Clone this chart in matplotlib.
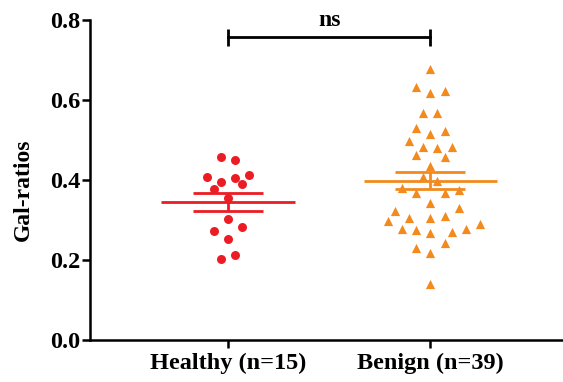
import numpy as np
import matplotlib
matplotlib.use('Agg')
from matplotlib import pyplot as plt

plt.rcParams['font.family'] = ['Liberation Serif', 'DejaVu Serif']
plt.rcParams['font.weight'] = 'bold'

# groups and tick labels
groups = ['Healthy (n=15)', 'Benign (n=39)']

# Gal-ratios, with the horizontal jitter of each point
healthy_vals = [0.457, 0.450, 0.407, 0.395, 0.406, 0.412, 0.389, 0.377, 0.354,
                0.303, 0.282, 0.272, 0.252, 0.203, 0.212]
healthy_jit = [-0.035, 0.035, -0.105, -0.035, 0.035, 0.105, 0.07, -0.07, 0.0,
               0.0, 0.07, -0.07, 0.0, -0.035, 0.035]

benign_vals = [0.677, 0.633, 0.617, 0.622, 0.567, 0.567, 0.529, 0.514, 0.522,
               0.498, 0.482, 0.479, 0.482, 0.462, 0.457, 0.436, 0.407, 0.397,
               0.381, 0.368, 0.367, 0.375, 0.343, 0.322, 0.329, 0.297, 0.306,
               0.304, 0.310, 0.277, 0.275, 0.267, 0.271, 0.277, 0.289, 0.231,
               0.242, 0.217, 0.140]
benign_jit = [0.0, -0.07, 0.0, 0.07, -0.035, 0.035, -0.07, 0.0, 0.07,
              -0.105, -0.035, 0.035, 0.105, -0.07, 0.07, 0.0, -0.035, 0.035,
              -0.14, -0.07, 0.07, 0.14, 0.0, -0.175, 0.14, -0.21, -0.105,
              0.0, 0.07, -0.14, -0.07, 0.0, 0.105, 0.175, 0.245, -0.07,
              0.07, 0.0, 0.0]

red = '#EC1C24'
orange = '#F28A1E'

fig = plt.figure(figsize=(5.63, 3.82), dpi=100)
ax = fig.add_axes([0.16, 0.11, 0.84, 0.8377])

series = [(healthy_vals, healthy_jit, red, 'o', 42),
          (benign_vals, benign_jit, orange, '^', 44)]

for i, (vals, jit, col, mk, sz) in enumerate(series):
    xc = i + 1
    vals = np.array(vals)
    ax.scatter(xc + np.array(jit), vals, color=col, marker=mk, s=sz,
               linewidths=0, zorder=3)
    m = vals.mean()
    sem = vals.std(ddof=1) / np.sqrt(len(vals))
    # mean line and SEM bars
    ax.hlines(m, xc - 0.33, xc + 0.33, color=col, lw=2.0, zorder=4)
    ax.hlines([m - sem, m + sem], xc - 0.173, xc + 0.173, color=col, lw=2.0, zorder=4)
    ax.vlines(xc, m - sem, m + sem, color=col, lw=2.0, zorder=4)

# significance bracket
ax.plot([1, 2], [0.757, 0.757], color='black', lw=2.0, clip_on=False)
ax.vlines([1, 2], 0.735, 0.778, color='black', lw=2.0, clip_on=False)
ax.text(1.5, 0.772, 'ns', ha='center', va='bottom', fontsize=17, fontweight='bold')

ax.set_xlim(0.32, 2.655)
ax.set_ylim(0, 0.8)
ax.set_xticks([1, 2])
ax.set_xticklabels(groups)
ax.set_yticks([0.0, 0.2, 0.4, 0.6, 0.8])
ax.set_yticklabels(['0.0', '0.2', '0.4', '0.6', '0.8'])
ax.set_ylabel('Gal-ratios', fontsize=17, fontweight='bold')
ax.yaxis.set_label_coords(-0.118, 0.47)

for s in ['top', 'right']:
    ax.spines[s].set_visible(False)
for s in ['left', 'bottom']:
    ax.spines[s].set_linewidth(1.8)
ax.tick_params(axis='both', width=1.8, length=5.5, labelsize=17.5)
ax.tick_params(axis='y', pad=1.5)
for lab in ax.get_xticklabels() + ax.get_yticklabels():
    lab.set_fontweight('bold')

fig.savefig('out.png', dpi=100)
